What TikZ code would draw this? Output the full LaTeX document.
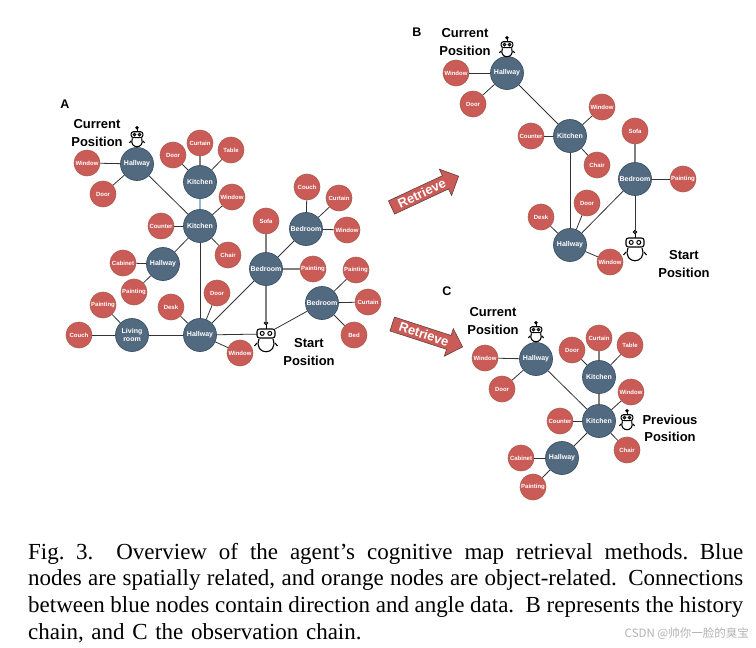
\documentclass[tikz,border=0pt]{standalone}
\usepackage{fontspec}
\setmainfont{Liberation Serif}
\setsansfont{Liberation Sans}
\newfontfamily\cjkfont{Noto Sans CJK SC}
\newcommand{\capline}[1]{\makebox[715pt][s]{\spaceskip=.25em plus 1em minus .15em #1}\\}
\usetikzlibrary{shapes.arrows}
\definecolor{roomblue}{RGB}{82,106,128}
\definecolor{roomedge}{RGB}{58,80,100}
\definecolor{objred}{RGB}{203,91,87}
\definecolor{objedge}{RGB}{170,90,75}
\definecolor{dark}{gray}{0.2}
\definecolor{softgray}{gray}{0.5}
\definecolor{softblue}{RGB}{150,185,210}

\begin{document}
\begin{tikzpicture}[
		x=1pt, y=-1pt,
		every node/.style={font=\sffamily\bfseries},
		room/.style={circle, draw=roomedge, fill=roomblue, line width=0.7pt, inner sep=0pt, minimum size=33pt, align=center, text=white, font=\fontsize{7}{8}\sffamily\bfseries},
		obj/.style={circle, draw=objedge, fill=objred, line width=0.6pt, inner sep=0pt, minimum size=26pt, text=white, font=\fontsize{6}{7}\sffamily\bfseries},
		link/.style={draw=dark, line width=0.8pt},
		softlink/.style={draw=softgray, line width=1.1pt},
		bluelink/.style={draw=softblue, line width=1.2pt},
		tag/.style={align=center, font=\fontsize{13}{17.2}\sffamily\bfseries},
		panel/.style={font=\fontsize{12.5}{14}\sffamily\bfseries},
		robotbox/.style={inner sep=0pt, minimum width=16pt, minimum height=24pt},
		retrieve/.style={single arrow, draw=dark!70!objred, fill=objred, text=white, line width=0.6pt, anchor=tip, inner xsep=2pt, inner ysep=2pt, minimum height=74pt, minimum width=29pt, single arrow head extend=7pt, single arrow head indent=0pt, font=\fontsize{13}{13}\sffamily\bfseries},
		robot/.pic={
			\draw[line width=1pt] (0,-11) circle (1.6);
			\draw[line width=1pt] (0,-9.4) -- (0,-5);
			\draw[line width=1.1pt, fill=white, rounded corners=2.5pt] (-9,-5) rectangle (9,4);
			\draw[line width=1pt] (-3.8,-0.6) circle (2) (3.8,-0.6) circle (2);
			\draw[line width=1.1pt] (-7,5) .. controls (-13,22) and (13,22) .. (7,5);
			\draw[line width=1.1pt] (-9,9) -- (-11.5,12) (9,9) -- (11.5,12);
		}
	]
		\useasboundingbox (0,0) rectangle (756,648);

		% panel A
		\node[panel] (labA) at (65,104) {A};
		\node[tag] (aCurTag) at (97,133) {Current\\Position};
		\node[tag] (aStartTag) at (309,352) {Start\\Position};
		\node[room] (aHall1) at (137,164) {Hallway};
		\node[room] (aKit1) at (200,182) {Kitchen};
		\node[room] (aKit2) at (200,226) {Kitchen};
		\node[room] (aHall2) at (163,264) {Hallway};
		\node[room] (aLiving) at (132,335) {Living\\room};
		\node[room] (aHall3) at (200,335) {Hallway};
		\node[room] (aBed1) at (266,269) {Bedroom};
		\node[room] (aBed2) at (306,229) {Bedroom};
		\node[room] (aBed3) at (322,303) {Bedroom};
		\node[obj] (aWin1) at (87,163) {Window};
		\node[obj] (aDoor1) at (103,194) {Door};
		\node[obj] (aDoor2) at (173,155) {Door};
		\node[obj] (aCurt1) at (200,143) {Curtain};
		\node[obj] (aTable) at (231,150) {Table};
		\node[obj] (aWin2) at (232,197) {Window};
		\node[obj] (aCount) at (161,226) {Counter};
		\node[obj] (aChair) at (228,255) {Chair};
		\node[obj] (aCab) at (123,263) {Cabinet};
		\node[obj] (aPaint1) at (134,292) {Painting};
		\node[obj] (aPaint2) at (103,305) {Painting};
		\node[obj] (aCouch1) at (79,335) {Couch};
		\node[obj] (aDesk) at (171,307) {Desk};
		\node[obj] (aDoor3) at (217,293) {Door};
		\node[obj] (aWin3) at (240,353) {Window};
		\node[obj] (aSofa) at (266,221) {Sofa};
		\node[obj] (aPaint3) at (313,269) {Painting};
		\node[obj] (aCouch2) at (307,187) {Couch};
		\node[obj] (aCurt2) at (339,198) {Curtain};
		\node[obj] (aWin4) at (347,230) {Window};
		\node[obj] (aPaint4) at (356,270) {Painting};
		\node[obj] (aCurt3) at (368,302) {Curtain};
		\node[obj] (aBedObj) at (354,335) {Bed};
		\node[robotbox] (aRobCur) at (137,135) {};
		\node[robotbox] (aRobStart) at (266,334) {};
		\pic[scale=0.66] at (aRobCur) {robot};
		\pic at (aRobStart) {robot};

		\draw[link] (aHall1) -- (aWin1);
		\draw[link] (aHall1) -- (aDoor1);
		\draw[link] (aHall1) -- (aKit2);
		\draw[link] (aKit1) -- (aDoor2);
		\draw[softlink] (aKit1) -- (aCurt1);
		\draw[link] (aKit1) -- (aTable);
		\draw[bluelink] (aKit1) -- (aKit2);
		\draw[link] (aKit2) -- (aWin2);
		\draw[link] (aKit2) -- (aCount);
		\draw[link] (aKit2) -- (aChair);
		\draw[link] (aKit2) -- (aHall2);
		\draw[link] (aKit2) -- (aHall3);
		\draw[link] (aHall2) -- (aCab);
		\draw[link] (aHall2) -- (aPaint1);
		\draw[link] (aLiving) -- (aPaint2);
		\draw[link] (aLiving) -- (aCouch1);
		\draw[link] (aLiving) -- (aHall3);
		\draw[link] (aHall3) -- (aDesk);
		\draw[link] (aHall3) -- (aDoor3);
		\draw[link] (aHall3) -- (aWin3);
		\draw[link] (aHall3) -- (aBed1);
		\draw[link] (aHall3) -- (aRobStart);
		\draw[softlink] (aBed1) -- (aSofa);
		\draw[softlink] (aBed1) -- (aPaint3);
		\draw[link] (aBed1) -- (aBed2);
		\draw[softlink] (aBed1) -- (aRobStart);
		\draw[link] (aBed2) -- (aCouch2);
		\draw[link] (aBed2) -- (aCurt2);
		\draw[link] (aBed2) -- (aWin4);
		\draw[link] (aBed3) -- (aPaint4);
		\draw[link] (aBed3) -- (aCurt3);
		\draw[link] (aBed3) -- (aBedObj);
		\draw[link] (aBed3) -- (aRobStart);

		% panel B
		\node[panel] (labB) at (417,32) {B};
		\node[tag] (bCurTag) at (465,42) {Current\\Position};
		\node[tag] (bStartTag) at (684,264) {Start\\Position};
		\node[retrieve, rotate=25] (arrowB) at (459,176) {Retrieve};
		\node[room] (bHall1) at (507,73) {Hallway};
		\node[room] (bKit) at (570,136) {Kitchen};
		\node[room] (bBed) at (635,179) {Bedroom};
		\node[room] (bHall2) at (570,245) {Hallway};
		\node[obj] (bWin1) at (456,73) {Window};
		\node[obj] (bDoor1) at (473,104) {Door};
		\node[obj] (bCount) at (531,136) {Counter};
		\node[obj] (bWin2) at (602,107) {Window};
		\node[obj] (bChair) at (597,165) {Chair};
		\node[obj] (bSofa) at (635,131) {Sofa};
		\node[obj] (bPaint) at (683,179) {Painting};
		\node[obj] (bDesk) at (541,217) {Desk};
		\node[obj] (bDoor2) at (587,203) {Door};
		\node[obj] (bWin3) at (610,262) {Window};
		\node[robotbox] (bRobCur) at (507,45) {};
		\node[robotbox] (bRobStart) at (635,243) {};
		\pic[scale=0.66] at (bRobCur) {robot};
		\pic at (bRobStart) {robot};

		\draw[link] (bHall1) -- (bWin1);
		\draw[link] (bHall1) -- (bDoor1);
		\draw[link] (bHall1) -- (bKit);
		\draw[link] (bKit) -- (bCount);
		\draw[link] (bKit) -- (bWin2);
		\draw[link] (bKit) -- (bChair);
		\draw[link] (bKit) -- (bHall2);
		\draw[softlink] (bBed) -- (bSofa);
		\draw[link] (bBed) -- (bPaint);
		\draw[link] (bBed) -- (bHall2);
		\draw[link] (bBed) -- (bRobStart);
		\draw[link] (bHall2) -- (bDesk);
		\draw[link] (bHall2) -- (bDoor2);
		\draw[link] (bHall2) -- (bWin3);

		% panel C
		\node[panel] (labC) at (447,291) {C};
		\node[tag] (cCurTag) at (493,321) {Current\\Position};
		\node[tag] (cPrevTag) at (670,428) {Previous\\Position};
		\node[retrieve, rotate=-18] (arrowC) at (463,347) {Retrieve};
		\node[room] (cHall1) at (536,359) {Hallway};
		\node[room] (cKit1) at (599,377) {Kitchen};
		\node[room] (cKit2) at (599,421) {Kitchen};
		\node[room] (cHall2) at (562,458) {Hallway};
		\node[obj] (cWin1) at (485,358) {Window};
		\node[obj] (cDoor1) at (502,389) {Door};
		\node[obj] (cDoor2) at (572,350) {Door};
		\node[obj] (cCurt) at (599,338) {Curtain};
		\node[obj] (cTable) at (630,345) {Table};
		\node[obj] (cWin2) at (631,392) {Window};
		\node[obj] (cCount) at (560,421) {Counter};
		\node[obj] (cChair) at (627,450) {Chair};
		\node[obj] (cCab) at (521,458) {Cabinet};
		\node[obj] (cPaint) at (533,487) {Painting};
		\node[robotbox] (cRobCur) at (536,330) {};
		\node[robotbox] (cRobPrev) at (627,418) {};
		\pic[scale=0.66] at (cRobCur) {robot};
		\pic[scale=0.66] at (cRobPrev) {robot};

		\draw[link] (cHall1) -- (cWin1);
		\draw[link] (cHall1) -- (cDoor1);
		\draw[link] (cHall1) -- (cKit2);
		\draw[link] (cKit1) -- (cDoor2);
		\draw[softlink] (cKit1) -- (cCurt);
		\draw[link] (cKit1) -- (cTable);
		\draw[softlink] (cKit1) -- (cKit2);
		\draw[link] (cKit2) -- (cWin2);
		\draw[link] (cKit2) -- (cCount);
		\draw[link] (cKit2) -- (cChair);
		\draw[link] (cKit2) -- (cHall2);
		\draw[link] (cHall2) -- (cCab);
		\draw[link] (cHall2) -- (cPaint);

		% caption
		\node[anchor=north west, inner sep=0pt, text width=715pt, font=\rmfamily\mdseries\fontsize{23}{26.6}\selectfont, align=left] (caption) at (28,543)
			{\capline{Fig. 3.\quad Overview of the agent's cognitive map retrieval methods. Blue}
			\capline{nodes are spatially related, and orange nodes are object-related. Connections}
			\capline{between blue nodes contain direction and angle data. B represents the history}
			chain, and C the observation chain.};
		\node[anchor=east, inner sep=0pt, text=black!30, font=\fontsize{11.5}{13}\cjkfont] (mark) at (749,634) {CSDN @帅你一脸的臭宝};
	\end{tikzpicture}
\end{document}
